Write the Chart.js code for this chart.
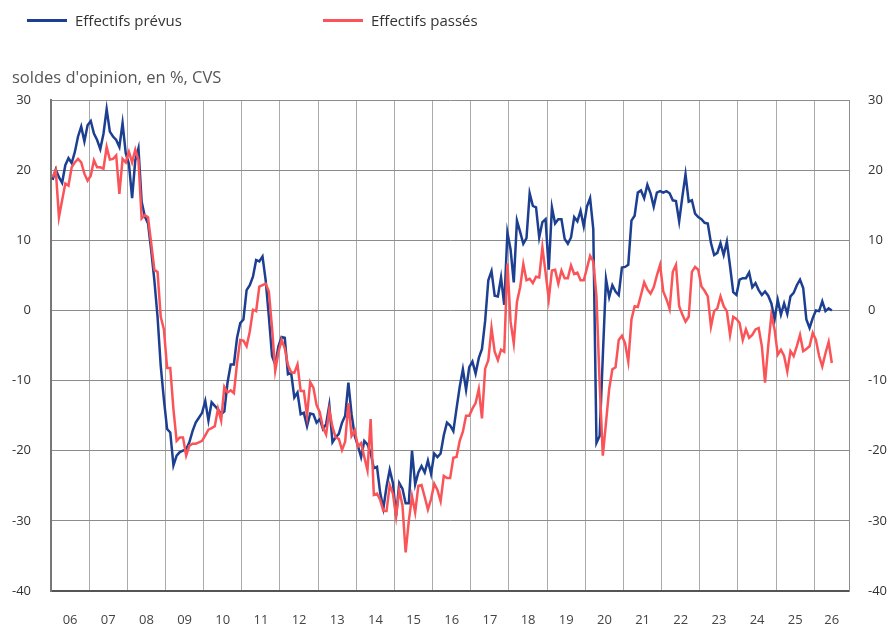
<!DOCTYPE html>
<html lang="fr">
<head>
<meta charset="utf-8">
<title>Effectifs prévus et passés</title>
<script src="https://cdn.jsdelivr.net/npm/chart.js@4.4.1/dist/chart.umd.min.js"></script>
<style>
  html, body { margin: 0; padding: 0; background: #fff; }
  #wrap { position: relative; width: 887px; height: 628px; font-family: 'Open Sans', sans-serif; }
  #graph { position: absolute; left: 0; top: 0; }
  .leg { position: absolute; top: 9px; font-size: 15px; line-height: 22px; color: #333; white-space: nowrap; }
  .leg i { display: inline-block; width: 40px; height: 3px; vertical-align: middle; margin-right: 8px; position: relative; top: -1px; }
  #unite { position: absolute; left: 12px; top: 66px; font-size: 16.5px; line-height: 22px; color: #555; white-space: nowrap; }
</style>
</head>
<body>
<div id="wrap">
  <canvas id="graph" width="887" height="628"></canvas>
  <div class="leg" style="left:27px"><i style="background:#1d3f91"></i>Effectifs prévus</div>
  <div class="leg" style="left:323px"><i style="background:#fb5458"></i>Effectifs passés</div>
  <div id="unite">soldes d'opinion, en %, CVS</div>
</div>
<script>
// libellés des années (un par année, 2006 -> 2026)
const annees = ['06', '07', '08', '09', '10', '11', '12', '13', '14', '15', '16', '17', '18', '19', '20', '21', '22', '23', '24', '25', '26'];

// soldes mensuels, janvier 2006 -> juin 2026
const effectifsPrevus = [
  18.6, 20.1, 19.0, 18.2, 20.7, 21.7, 21.0, 22.6, 24.8, 26.2, 24.1, 26.4,
  27.0, 25.2, 24.3, 23.0, 25.2, 28.7, 25.5, 24.8, 24.3, 23.3, 26.7, 22.4,
  20.9, 16.0, 21.4, 23.1, 15.5, 13.4, 12.4, 8.6, 4.3, -0.9, -7.9, -12.7,
  -16.9, -17.4, -22.1, -20.7, -20.2, -20.0, -19.8, -18.8, -17.2, -16.0, -15.3, -14.6,
  -12.9, -15.7, -13.1, -13.6, -14.1, -14.8, -14.4, -10.3, -7.7, -7.7, -3.9, -1.8,
  -1.3, 2.9, 3.6, 4.8, 7.2, 7.0, 7.7, 4.3, -0.9, -6.5, -7.7, -5.1,
  -3.8, -3.9, -9.1, -8.9, -12.4, -11.7, -14.8, -14.6, -16.5, -14.7, -14.8, -16.0,
  -15.5, -16.9, -16.2, -13.5, -18.8, -18.1, -17.6, -16.0, -15.0, -10.3, -14.8, -17.9,
  -19.3, -20.9, -18.6, -19.1, -20.3, -22.5, -22.3, -26.0, -28.2, -25.1, -22.7, -24.6,
  -29.3, -24.6, -25.4, -27.5, -27.5, -20.0, -24.8, -23.1, -22.2, -23.1, -21.4, -23.3,
  -20.4, -20.9, -20.4, -17.8, -16.0, -16.4, -17.2, -14.0, -10.9, -8.4, -11.3, -8.1,
  -7.3, -9.0, -6.8, -5.5, -1.5, 4.3, 5.6, 2.1, 2.0, 4.7, 0.8, 11.1,
  8.7, 4.0, 12.8, 11.2, 9.5, 10.3, 16.7, 14.9, 14.7, 10.4, 12.6, 13.0,
  5.8, 14.7, 12.4, 13.0, 13.0, 10.2, 9.5, 10.4, 13.3, 12.7, 14.2, 12.0,
  14.8, 16.0, 11.6, -18.9, -17.9, -6.5, 4.5, 1.9, 3.6, 2.7, 2.2, 6.1,
  6.2, 6.5, 12.8, 13.5, 16.8, 17.1, 16.0, 17.9, 16.7, 14.8, 16.8, 17.0,
  16.8, 17.0, 16.7, 15.7, 15.6, 12.7, 16.2, 19.4, 15.5, 15.7, 13.8, 13.3,
  13.0, 12.5, 12.4, 9.6, 7.9, 8.2, 9.6, 7.9, 9.8, 6.3, 2.6, 2.2,
  4.4, 4.6, 4.6, 5.4, 3.3, 3.9, 2.9, 2.2, 2.7, 2.1, 1.0, -1.3,
  1.5, -0.6, 1.0, -0.5, 2.0, 2.5, 3.6, 4.4, 3.2, -1.3, -2.5, -1.1,
  0.0, -0.1, 1.3, -0.1, 0.3, 0.0
];

const effectifsPasses = [
  19.0, 20.0, 13.3, 15.7, 18.1, 17.8, 20.4, 21.1, 21.6, 21.1, 19.5, 18.5,
  19.2, 21.4, 20.4, 20.4, 20.2, 23.3, 21.5, 21.6, 22.1, 16.6, 21.6, 21.1,
  22.6, 21.1, 22.9, 21.4, 13.1, 13.6, 13.3, 9.6, 5.8, 5.5, -0.9, -2.7,
  -8.2, -8.2, -14.1, -18.6, -18.1, -18.1, -20.7, -19.3, -19.0, -19.0, -18.8, -18.6,
  -17.8, -17.0, -16.8, -16.5, -14.0, -15.7, -10.9, -11.7, -11.4, -11.8, -7.5, -4.2,
  -4.3, -5.1, -3.0, 0.1, -0.1, 3.4, 3.6, 3.8, 2.7, -2.5, -8.6, -6.0,
  -4.2, -5.4, -7.8, -8.8, -8.9, -7.7, -11.5, -11.5, -15.0, -10.2, -11.0, -13.5,
  -14.5, -16.7, -17.7, -14.2, -16.6, -18.1, -18.3, -19.9, -18.7, -13.2, -17.9, -17.1,
  -19.4, -18.9, -20.9, -22.8, -15.5, -26.3, -26.1, -27.0, -28.6, -28.6, -24.9, -26.1,
  -29.4, -25.6, -27.8, -34.5, -30.0, -26.5, -28.8, -25.0, -24.9, -26.6, -28.4, -26.9,
  -24.7, -25.6, -27.2, -23.6, -23.9, -23.9, -21.0, -20.9, -18.6, -17.3, -15.0, -15.0,
  -14.0, -13.2, -11.2, -15.4, -8.3, -7.1, -2.5, -5.9, -7.1, -5.6, -5.9, 6.7,
  -1.6, -4.7, 1.2, 3.3, 6.6, 4.3, 4.5, 3.9, 4.8, 4.7, 9.0, 5.4,
  1.6, 5.7, 5.8, 3.8, 5.7, 4.6, 4.6, 6.4, 5.2, 5.4, 4.3, 4.3,
  6.0, 7.8, 7.0, 2.0, -10.4, -20.7, -16.0, -11.2, -8.4, -8.1, -4.2, -3.6,
  -4.7, -7.3, -1.3, 0.6, 0.5, 2.2, 4.0, 3.0, 2.4, 3.3, 5.0, 6.5,
  2.7, 1.6, 0.2, 5.5, 6.5, 0.6, -0.6, -1.6, -0.9, 5.5, 6.2, 5.8,
  3.4, 2.8, 2.0, -2.3, -0.1, 0.3, 2.0, 0.6, -0.1, -3.5, -0.9, -1.2,
  -1.8, -4.2, -2.7, -3.9, -3.5, -2.7, -2.5, -5.1, -10.3, -5.1, -0.6, -2.7,
  -6.3, -5.6, -6.5, -8.7, -5.8, -6.5, -5.1, -3.5, -5.8, -5.5, -5.1, -3.2,
  -4.2, -6.5, -8.0, -6.1, -4.5, -7.5
];

const soldeMin = -40, soldeMax = 30, soldePas = 10;
const finAxe = 250.9;     // mois affichés sur l'axe (la dernière année est tronquée)
const moisParAn = 12;

Chart.defaults.font.family = "'Open Sans', sans-serif";

// point au milieu du mois
const versPoints = serie => serie.map((v, i) => ({ x: i + 0.5, y: v }));

const dernierTrait = (annees.length - 1) * moisParAn;

function libelleAnnee(v) {
  if (v > dernierTrait) return annees[annees.length - 1];
  if (v % moisParAn === moisParAn / 2) return annees[(v - moisParAn / 2) / moisParAn];
  return '';
}

const policeAxes = { size: 13 };

new Chart(document.getElementById('graph'), {
  type: 'line',
  data: {
    datasets: [
      { label: 'Effectifs prévus', data: versPoints(effectifsPrevus), borderColor: '#1d3f91', borderWidth: 2.5, pointRadius: 0, tension: 0, fill: false, order: 2 },
      { label: 'Effectifs passés', data: versPoints(effectifsPasses), borderColor: '#fb5458', borderWidth: 2.5, pointRadius: 0, tension: 0, fill: false, order: 1 }
    ]
  },
  options: {
    responsive: false,
    devicePixelRatio: 1,
    animation: false,
    layout: { padding: { top: 100, left: 0, right: 0, bottom: 0 } },
    plugins: { legend: { display: false }, tooltip: { enabled: false } },
    scales: {
      x: {
        type: 'linear', min: 0, max: finAxe,
        afterBuildTicks: scale => {
          const ticks = [];
          for (let m = 0; m <= dernierTrait; m += moisParAn / 2) ticks.push({ value: m });
          ticks.push({ value: (dernierTrait + finAxe) / 2 });
          scale.ticks = ticks;
        },
        afterFit: scale => { scale.height = 37; },
        grid: { color: ctx => (ctx.tick && ctx.tick.value % moisParAn === 0) ? '#ababab' : 'rgba(0,0,0,0)', lineWidth: 1, drawTicks: false },
        border: { color: '#555', width: 2 },
        ticks: { autoSkip: false, maxRotation: 0, padding: 21, color: '#444', font: policeAxes, callback: v => libelleAnnee(v) }
      },
      y: {
        position: 'left', min: soldeMin, max: soldeMax,
        afterFit: scale => { scale.width = 51; },
        grid: { color: '#8c8c8c', lineWidth: 1, drawTicks: false },
        border: { color: '#777', width: 2 },
        ticks: { stepSize: soldePas, padding: 20, color: '#333', font: policeAxes }
      },
      y2: {
        position: 'right', min: soldeMin, max: soldeMax,
        afterFit: scale => { scale.width = 38; },
        grid: { display: false, drawTicks: false },
        border: { color: '#8c8c8c', width: 1 },
        ticks: { stepSize: soldePas, padding: 19, color: '#333', font: policeAxes }
      }
    }
  }
});
</script>
</body>
</html>
